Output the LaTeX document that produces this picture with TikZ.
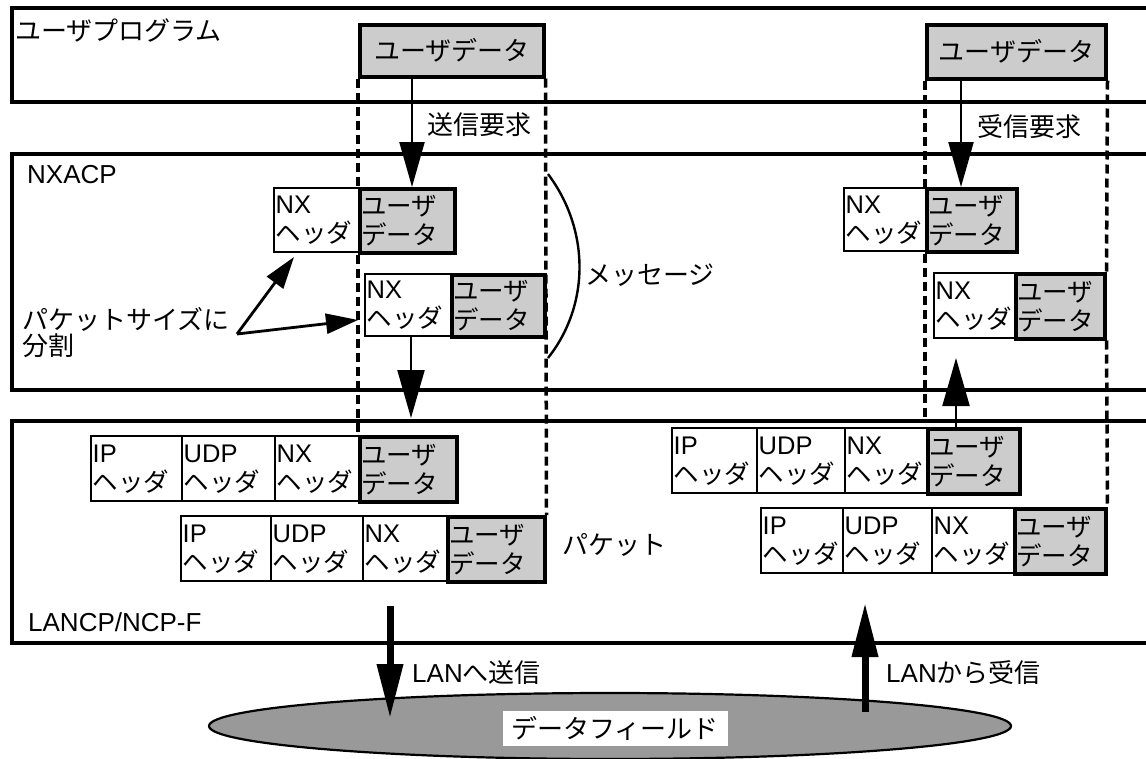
\documentclass[tikz,border=0pt]{standalone}
\usepackage{fontspec}
\setmainfont{Liberation Sans}
\newfontfamily\jp{Noto Sans CJK JP}
\usetikzlibrary{arrows.meta,shapes.geometric,calc}
\definecolor{udgray}{HTML}{CCCCCC}
\definecolor{langray}{HTML}{999999}
\newcommand\mkcell[7]{\pgfmathsetmacro\cw{#4-3}\node[#7, text width=\cw pt, minimum height=#5pt] (#1) at (#2,#3) {#6};}
\newcommand\hd[1]{#1\\{\jp ヘッダ}}
\newcommand\ud{{\jp ユーザ\\データ}}
\tikzset{
  layer/.style={draw, line width=3.5pt, anchor=north west, inner sep=0pt, minimum width=1180pt},
  cellbase/.style={draw, anchor=north west, inner xsep=1.5pt, inner ysep=0pt, align=left, font=\fontsize{25.5}{29}\selectfont},
  hdr/.style={cellbase, fill=white, line width=2.4pt},
  dat/.style={cellbase, fill=udgray, line width=3.5pt},
  topud/.style={draw, fill=udgray, line width=3.5pt, anchor=north west, inner sep=0pt, font=\fontsize{26}{29}\selectfont\jp},
  lbl/.style={anchor=west, inner sep=0pt, font=\fontsize{26}{29}\selectfont},
  guide/.style={line width=3.5pt, dash pattern=on 9pt off 5pt},
  req/.style={line width=2.2pt, -{Triangle[length=45pt,width=25pt]}},
  fwd/.style={line width=2.2pt, -{Triangle[length=48pt,width=27pt]}},
  lanarr/.style={line width=7pt, -{Triangle[length=54pt,width=25pt]}},
  split/.style={line width=2.8pt, -{Triangle[length=32pt,width=20pt]}},
}
\begin{document}
\begin{tikzpicture}[x=1pt,y=-1pt]
\useasboundingbox (0,0) rectangle (1146,758);
\clip (0,0) rectangle (1146,758);
\fill[white] (0,0) rectangle (1146,758);

% layers
\node[layer, minimum height=94pt] (L1) at (10,6) {};
\node[layer, minimum height=236pt] (L2) at (10,152) {};
\node[layer, minimum height=222pt] (L3) at (10,419) {};
\node[lbl] (t1) at (15,30) {\jp ユーザプログラム};
\node[lbl] (t2) at (27,175) {NXACP};
\node[lbl] (t3) at (28,622) {LANCP/NCP-F};

% top user data
\node[topud, minimum width=184pt, minimum height=52pt] (udL) at (358,23) {ユーザデータ};
\node[topud, minimum width=179pt, minimum height=54pt] (udR) at (925,23) {ユーザデータ};

% guide end point
\coordinate (gR1) at (925,421);

% cells
\mkcell{lm1h}{273}{187}{85}{64}{\hd{NX}}{hdr}
\mkcell{lm1u}{358}{187}{95}{64}{\ud}{dat}
\mkcell{lm2h}{364}{273}{86}{62}{\hd{NX}}{hdr}
\mkcell{lm2u}{450}{273}{93}{62}{\ud}{dat}
\mkcell{rm1h}{843}{187}{82}{63}{\hd{NX}}{hdr}
\mkcell{rm1u}{925}{187}{90}{63}{\ud}{dat}
\mkcell{rm2h}{933}{272}{81}{65}{\hd{NX}}{hdr}
\mkcell{rm2u}{1014}{272}{89}{65}{\ud}{dat}

\mkcell{lp1a}{90}{435}{91}{65}{\hd{IP}}{hdr}
\mkcell{lp1b}{181}{435}{93}{65}{\hd{UDP}}{hdr}
\mkcell{lp1c}{274}{435}{84}{65}{\hd{NX}}{hdr}
\mkcell{lp1u}{358}{435}{97}{65}{\ud}{dat}
\mkcell{lp2a}{180}{515}{90}{65}{\hd{IP}}{hdr}
\mkcell{lp2b}{270}{515}{92}{65}{\hd{UDP}}{hdr}
\mkcell{lp2c}{362}{515}{84}{65}{\hd{NX}}{hdr}
\mkcell{lp2u}{446}{515}{97}{65}{\ud}{dat}

\mkcell{rp1a}{671}{427}{85}{65}{\hd{IP}}{hdr}
\mkcell{rp1b}{756}{427}{88}{65}{\hd{UDP}}{hdr}
\mkcell{rp1c}{844}{427}{82}{65}{\hd{NX}}{hdr}
\mkcell{rp1u}{926}{427}{92}{65}{\ud}{dat}
\mkcell{rp2a}{760}{507}{82}{65}{\hd{IP}}{hdr}
\mkcell{rp2b}{842}{507}{89}{65}{\hd{UDP}}{hdr}
\mkcell{rp2c}{931}{507}{82}{65}{\hd{NX}}{hdr}
\mkcell{rp2u}{1013}{507}{91}{65}{\ud}{dat}

% dashed guides
\draw[guide] (udL.south west) -- (lm1u.north west);
\draw[guide] (lm1u.south west) -- (lp1u.north west);
\draw[guide] (udL.south east) -- (lp2u.north east);
\draw[guide] (udR.south west) -- (rm1u.north west);
\draw[guide] (rm1u.south west) -- (gR1);
\draw[guide] (udR.south east) -- (rm2u.north east);
\draw[guide] (rm2u.south east) -- (rp2u.north east);

% request arrows
\coordinate (s1) at (412,75);
\coordinate (r1) at (961,77);
\draw[req] (s1) -- (s1 |- lm1u.north);
\draw[req] (r1) -- (r1 |- rm1u.north);
\node[lbl] (sreq) at (427,125) {\jp 送信要求};
\node[lbl] (rreq) at (977,127) {\jp 受信要求};

% message to packet arrows
\coordinate (d1) at (411,335);
\coordinate (d2) at (411,418);
\draw[fwd] (d1) -- (d2);
\coordinate (u1) at (956,427);
\coordinate (u2) at (956,358);
\draw[fwd] (u1) -- (u2);

% split arrows
\node[lbl, align=left, font=\fontsize{26}{26}\selectfont\jp] (splitlbl) at (22,333) {パケットサイズに\\分割};
\coordinate (sp) at (237,334);
\coordinate (sp1) at (294,257);
\coordinate (sp2) at (358,320);
\draw[split] (sp) -- (sp1);
\draw[split] (sp) -- (sp2);

% message brace
\coordinate (b1) at (548,174);
\coordinate (b2) at (548,358);
\draw[line width=2.4pt] (b1) .. controls (590,230) and (590,305) .. (b2);
\node[lbl] (msg) at (585,275) {\jp メッセージ};
\node[lbl] (pkt) at (562,545) {\jp パケット};

% LAN
\node[draw, ellipse, fill=langray, line width=2.2pt, minimum width=802pt, minimum height=66pt, inner sep=0pt] (field) at (610,726) {};
\node[fill=white, minimum width=225pt, minimum height=35pt, inner sep=0pt, font=\fontsize{26}{29}\selectfont\jp] (ft) at (615,728) {データフィールド};
\coordinate (ls1) at (390,606);
\coordinate (ls2) at (390,718);
\draw[lanarr] (ls1) -- (ls2);
\coordinate (lr1) at (865,712);
\coordinate (lr2) at (865,603);
\draw[lanarr] (lr1) -- (lr2);
\node[lbl] (lsend) at (412,673) {LAN{\jp へ送信}};
\node[lbl] (lrecv) at (886,673) {LAN{\jp から受信}};
\end{tikzpicture}
\end{document}
